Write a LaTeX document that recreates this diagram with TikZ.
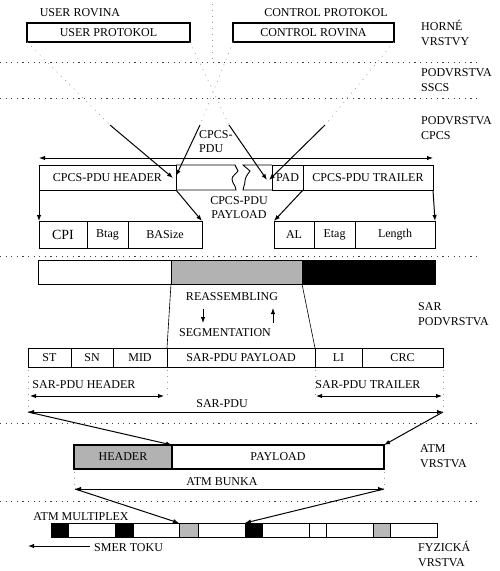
\documentclass[tikz,border=0pt]{standalone}
\usepackage{fontspec}
\setmainfont{Liberation Serif}
\usetikzlibrary{arrows.meta}
\newcommand\cellbox[7]{% name, x1, y1, x2, y2, style, text
  \pgfmathsetmacro\cbw{#4-#2}\pgfmathsetmacro\cbh{#5-#3}%
  \node[#6, minimum width=\cbw pt, minimum height=\cbh pt] (#1) at ({(#2+#4)/2},{(#3+#5)/2}) {#7};}
\begin{document}
\begin{tikzpicture}[x=1pt,y=-1pt, font=\fontsize{12}{14}\selectfont,
  lbl/.style={inner sep=0pt, anchor=center},
  layerlbl/.style={align=left, anchor=west, inner sep=0pt, font=\fontsize{12}{15}\selectfont},
  sep/.style={line width=0.9pt, dash pattern=on 1.2pt off 4.4pt, black!75},
  faint/.style={line width=0.6pt, dash pattern=on 1pt off 5pt, black!40},
  arr/.style={line width=1pt, -{Latex[length=6pt,width=4.5pt]}},
  darr/.style={line width=1pt, {Latex[length=6pt,width=4.5pt]}-{Latex[length=6pt,width=4.5pt]}},
  cell/.style={draw, line width=0.9pt, inner sep=0pt, outer sep=0pt},
  thickcell/.style={draw, line width=1.4pt, inner sep=0pt, outer sep=0pt},
]
\useasboundingbox (0,0) rectangle (500,571);

% ---------- layer separators ----------
\foreach \yy in {62,98,256,423,501} \draw[sep] (0,\yy) -- (478,\yy);
\draw[faint] (212,4) -- (212,60);

% ---------- layer labels ----------
\node[layerlbl] (lh) at (421,32.5) {HORNÉ\\VRSTVY};
\node[layerlbl] (ls) at (421,80) {PODVRSTVA\\SSCS};
\node[layerlbl] (lc) at (421,128) {PODVRSTVA\\CPCS};
\node[layerlbl] (lsar) at (418,314) {SAR\\PODVRSTVA};
\node[layerlbl] (latm) at (420,456) {ATM\\VRSTVA};
\node[layerlbl] (lfyz) at (418,554) {FYZICKÁ\\VRSTVA};

% ---------- upper layers ----------
\node[lbl] (uroT) at (80,13) {USER ROVINA};
\node[lbl] (cprT) at (326,13) {CONTROL PROTOKOL};
\cellbox{up}{27}{23}{190}{42}{thickcell}{USER PROTOKOL}
\cellbox{cr}{233}{23}{394}{42}{thickcell}{CONTROL ROVINA}

% ---------- CPCS ----------
\coordinate (a1s) at (110,125);
\coordinate (a2s) at (200,125);
\coordinate (a3s) at (229,125);
\coordinate (a4s) at (325,125);
\draw[faint] (up.south west) -- (a1s);
\draw[faint] (up.south east) -- (a3s);
\draw[faint] (cr.south west) -- (a2s);
\draw[faint] (cr.south east) -- (a4s);

\node[anchor=west, align=left, inner sep=0pt] (cpdu) at (199,142) {CPCS-\\PDU};
\coordinate (dl) at (39,158);
\coordinate (dr) at (433,158);
\draw[darr] (dl) -- (dr);

\cellbox{hdr}{39}{165}{176}{190}{cell}{CPCS-PDU HEADER}
\draw[line width=0.9pt] (hdr.north east) -- (235,165) -- (238,171) .. controls (236,174) and (232,176) .. (232,179) .. controls (232,183) and (236,186) .. (236,190) -- (hdr.south east);
\cellbox{pad}{272}{165}{303}{190}{cell}{PAD}
\cellbox{trl}{303}{165}{433}{190}{cell}{CPCS-PDU TRAILER}
\draw[line width=0.9pt] (pad.north west) -- (243,165) -- (250,171) .. controls (247,175) and (245,178) .. (245,181) .. controls (245,185) and (243,187) .. (243,190) -- (pad.south west);

\coordinate (a1e) at (173,178);
\coordinate (a2e) at (176,176);
\coordinate (a3e) at (267,180);
\coordinate (a4e) at (269,180);
\draw[arr] (a1s) -- (a1e);
\draw[arr] (a2s) -- (a2e);
\draw[arr] (a3s) -- (a3e);
\draw[arr] (a4s) -- (a4e);

\node[align=center, inner sep=0pt] (cpay) at (239,208) {CPCS-PDU\\PAYLOAD};

\cellbox{cpi}{39}{221}{87}{248}{cell, font=\fontsize{14}{14}\selectfont}{CPI}
\cellbox{btag}{87}{221}{128}{248}{cell}{Btag}
\cellbox{basize}{128}{221}{202}{248}{cell}{BASize}
\cellbox{al}{274}{221}{314}{248}{cell}{AL}
\cellbox{etag}{314}{221}{355}{248}{cell}{Etag}
\cellbox{len}{355}{221}{435}{248}{cell}{Length}

\draw[arr] (hdr.south west) -- (cpi.north west);
\draw[arr] (hdr.south east) -- (basize.north east);
\draw[arr] (trl.south west) -- (al.north west);
\draw[arr] (trl.south east) -- (len.north east);

% ---------- SAR ----------
\cellbox{sw}{38}{260}{171}{284}{cell, line width=0.7pt}{}
\cellbox{sg}{171}{260}{302}{284}{cell, line width=0.7pt, fill=black!30}{}
\cellbox{sb}{302}{260}{435}{284}{cell, line width=0.7pt, fill=black}{}

\node[lbl] (reas) at (232,297) {REASSEMBLING};
\node[lbl] (segm) at (225,333) {SEGMENTATION};
\coordinate (dnA) at (203,309);
\coordinate (dnB) at (203,323);
\coordinate (upA) at (273,323);
\coordinate (upB) at (273,308);
\draw[arr] (dnA) -- (dnB);
\draw[arr] (upA) -- (upB);

\cellbox{st}{28}{348}{71}{367}{cell}{ST}
\cellbox{sn}{71}{348}{113}{367}{cell}{SN}
\cellbox{mid}{113}{348}{167}{367}{cell}{MID}
\cellbox{spay}{167}{348}{315}{367}{cell}{SAR-PDU PAYLOAD}
\cellbox{li}{315}{348}{362}{367}{cell}{LI}
\cellbox{crc}{362}{348}{443}{367}{cell}{CRC}

\draw[line width=0.6pt] (sg.south west) -- (spay.north west);
\draw[line width=0.6pt] (sg.south east) -- (li.north west);

\draw[faint] (28,370) -- (28,410);
\draw[faint] (167,370) -- (167,398);
\draw[faint] (315,370) -- (315,398);
\draw[faint] (443,370) -- (443,410);

\node[lbl] (shdr) at (84,385) {SAR-PDU HEADER};
\node[lbl] (strl) at (368,385) {SAR-PDU TRAILER};
\node[lbl] (spdu) at (222,404) {SAR-PDU};
\coordinate (h1) at (30,396);
\coordinate (h2) at (164,396);
\coordinate (t1) at (316,396);
\coordinate (t2) at (442,396);
\coordinate (p1) at (28,412);
\coordinate (p2) at (443,412);
\draw[darr] (h1) -- (h2);
\draw[darr] (t1) -- (t2);
\draw[darr] (p1) -- (p2);

% ---------- ATM ----------
\cellbox{hd}{74}{445}{172}{469}{thickcell, line width=1.3pt, fill=black!30}{HEADER}
\cellbox{pl}{172}{445}{384}{469}{cell, line width=1.1pt}{PAYLOAD}
\draw[arr] (p1) -- (hd.north east);
\draw[arr] (p2) -- (pl.north east);

\draw[faint] (74,472) -- (74,486);
\draw[faint] (384,472) -- (384,486);
\node[lbl] (bunka) at (222,482) {ATM BUNKA};
\coordinate (b1) at (75,489);
\coordinate (b2) at (384,489);
\draw[darr] (b1) -- (b2);

% ---------- physical ----------
\node[lbl] (mux) at (81,517) {ATM MULTIPLEX};
\foreach \a/\b/\f [count=\i] in {51/68/black, 68/115/white, 115/133/black, 133/179/white, 179/198/black!28, 198/245/white, 245/262/black, 262/309/white, 309/326/white, 326/373/white, 373/390/black!28, 390/437/white}
  {\cellbox{m\i}{\a}{523}{\b}{537}{cell, line width=0.6pt, fill=\f}{}}
\draw[arr] (b1) -- (m5.north west);
\draw[arr] (b2) -- (m7.north west);

\coordinate (sm1) at (90,546);
\coordinate (sm2) at (28,546);
\draw[arr] (sm1) -- (sm2);
\node[anchor=west, inner sep=0pt] (smer) at (94,548) {SMER TOKU};
\end{tikzpicture}
\end{document}
